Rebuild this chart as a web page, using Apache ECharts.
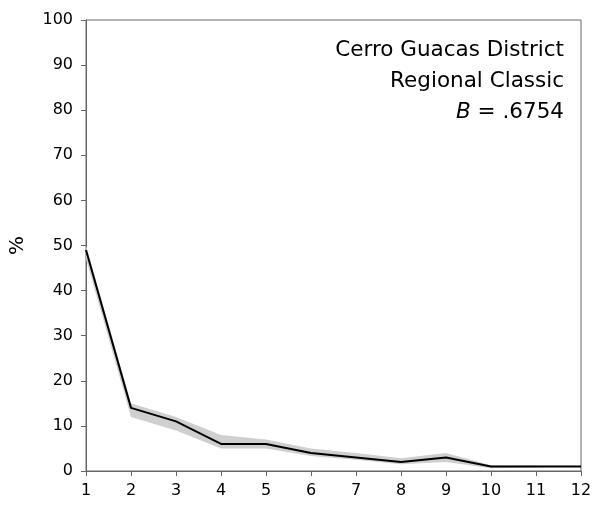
<!DOCTYPE html>
<html><head><meta charset="utf-8">
<script src="https://cdn.jsdelivr.net/npm/echarts@6/dist/echarts.min.js"></script>
<style>html,body{margin:0;padding:0;background:#fff}#c{width:593px;height:505px}</style>
</head><body><div id="c"></div>
<script>
const categories = ['1','2','3','4','5','6','7','8','9','10','11','12'];
const meanValues = [49, 14, 11, 6, 6, 4, 3, 2, 3, 1, 1, 1];
const upperValues = [50, 15, 12, 8, 7, 5, 4, 2.8, 4, 1.3, 1.2, 1.2];
const lowerValues = [47, 12, 9, 5, 5, 3.3, 2.5, 1.5, 2, 0.6, 0.8, 0.8];
const yTicks = [0,10,20,30,40,50,60,70,80,90,100];
const titleLines = ['Cerro Guacas District', 'Regional Classic'];
const statLabel = 'B';
const statValue = ' = .6754';

const FONT = 'DejaVu Sans';
const chart = echarts.init(document.getElementById('c'), null, {renderer:'canvas'});
const bandDiff = upperValues.map((u,i)=>u - lowerValues[i]);
const txt = (s, y) => ({type:'text', x:564, y:y, style:{text:s, fontFamily:FONT, fontSize:21.5, fill:'#000', align:'right', verticalAlign:'middle'}});
chart.setOption({
  animation:false,
  grid:{left:86,right:12,top:20,bottom:34,show:true,borderColor:'#666',borderWidth:1,
    containLabel:false,outerBoundsMode:'none'},
  xAxis:{type:'category',data:categories,boundaryGap:false,
    axisLine:{lineStyle:{color:'#666'}},
    axisTick:{show:true,length:5,lineStyle:{color:'#666'},alignWithLabel:true},
    axisLabel:{color:'#000',fontFamily:FONT,fontSize:16,margin:12},
    splitLine:{show:false}},
  yAxis:{type:'value',min:0,max:100,interval:10,
    name:'%',nameLocation:'middle',nameGap:58,nameRotate:90,
    nameTextStyle:{color:'#000',fontFamily:FONT,fontSize:20},
    axisLine:{show:true,lineStyle:{color:'#666'}},
    axisTick:{show:true,length:5,lineStyle:{color:'#666'}},
    axisLabel:{color:'#000',fontFamily:FONT,fontSize:16,margin:13,
      formatter:v=>yTicks.includes(v)?String(v):''},
    splitLine:{show:false}},
  series:[
    {type:'line',data:lowerValues,stack:'band',symbol:'none',lineStyle:{opacity:0},silent:true},
    {type:'line',data:bandDiff,stack:'band',symbol:'none',lineStyle:{opacity:0},
      areaStyle:{color:'#cfcfcf',opacity:1},silent:true},
    {type:'line',data:meanValues,symbol:'none',lineStyle:{color:'#000',width:2},z:5}
  ],
  graphic:[
    txt(titleLines[0], 50),
    txt(titleLines[1], 81),
    {type:'text',x:564,y:112,style:{text:'{i|'+statLabel+'}{n|'+statValue+'}',
      rich:{i:{fontStyle:'italic',fontFamily:FONT,fontSize:21.5,fill:'#000'},
            n:{fontFamily:FONT,fontSize:21.5,fill:'#000'}},
      fontFamily:FONT,fontSize:21.5,fill:'#000',align:'right',verticalAlign:'middle'}}
  ]
});
</script></body></html>
